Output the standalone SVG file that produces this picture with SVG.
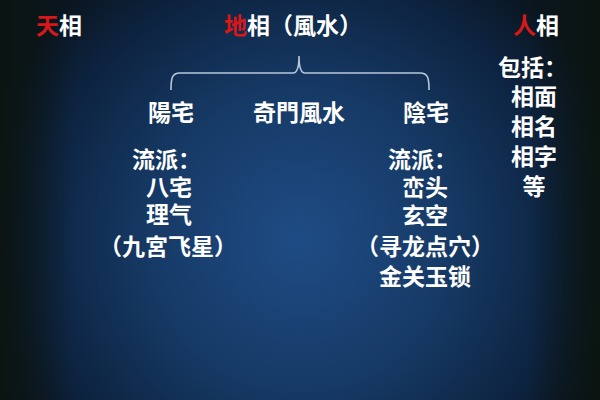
<svg xmlns="http://www.w3.org/2000/svg" width="600" height="400" viewBox="0 0 600 400">
<defs>
<radialGradient id="bg" cx="300" cy="240" r="330" gradientUnits="userSpaceOnUse">
<stop offset="0" stop-color="#1f4c85"/>
<stop offset="0.45" stop-color="#163a66"/>
<stop offset="0.8" stop-color="#0d2340"/>
<stop offset="1" stop-color="#0a1620"/>
</radialGradient>
<linearGradient id="edge" x1="0" y1="0" x2="1" y2="0">
<stop offset="0" stop-color="#0b1410" stop-opacity="0.95"/>
<stop offset="0.12" stop-color="#0b1410" stop-opacity="0"/>
<stop offset="0.88" stop-color="#0b1410" stop-opacity="0"/>
<stop offset="1" stop-color="#0b1410" stop-opacity="0.95"/>
</linearGradient>
<style>
text{font-family:"Noto Sans CJK SC","Noto Sans CJK TC",sans-serif;font-weight:bold;font-size:23px;fill:#ffffff}
.r{fill:#d81818}
.m{text-anchor:middle}
.brace{fill:none;stroke:#b8c8dc;stroke-width:1.6}
</style>
</defs>
<rect width="600" height="400" fill="url(#bg)"/>
<rect width="600" height="400" fill="url(#edge)"/>
<g id="tian"><text x="36" y="34"><tspan class="r">天</tspan>相</text></g>
<g id="di"><text x="224" y="34"><tspan class="r">地</tspan>相（風水）</text></g>
<g id="ren"><text x="513" y="34"><tspan class="r">人</tspan>相</text></g>
<g id="connectors">
<path class="brace" d="M171,90 C171,78 172,73 180,73 L293,73 C297,73 299,68 299,56 C299,68 301,73 305,73 L420,73 C428,73 429,78 429,90"/>
</g>
<g id="yangzhai">
<text class="m" x="171" y="121">陽宅</text>
<text x="132" y="168">流派：</text>
<text class="m" x="169" y="196">八宅</text>
<text class="m" x="169" y="223">理气</text>
<text class="m" x="168" y="255">（九宮飞星）</text>
</g>
<g id="qimen"><text class="m" x="299" y="121">奇門風水</text></g>
<g id="yinzhai">
<text class="m" x="426" y="121">陰宅</text>
<text x="388" y="168">流派：</text>
<text class="m" x="425" y="196">峦头</text>
<text class="m" x="425" y="224">玄空</text>
<text class="m" x="425" y="255">（寻龙点穴）</text>
<text class="m" x="425" y="285">金关玉锁</text>
</g>
<g id="renxiang">
<text x="498" y="76">包括：</text>
<text class="m" x="534" y="105">相面</text>
<text class="m" x="534" y="135">相名</text>
<text class="m" x="534" y="165">相字</text>
<text class="m" x="534" y="195">等</text>
</g>
</svg>
